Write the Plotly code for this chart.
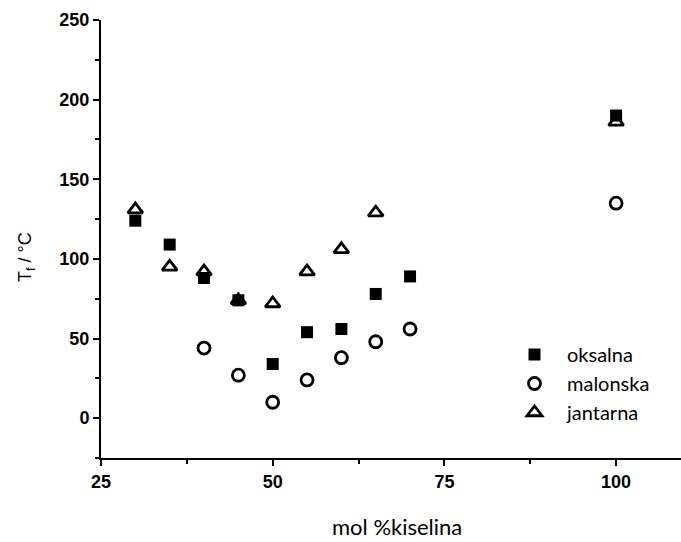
import plotly.graph_objects as go

x_oks = [30, 35, 40, 45, 50, 55, 60, 65, 70, 100]
y_oks = [124, 109, 88, 74, 34, 54, 56, 78, 89, 190]

x_mal = [40, 45, 50, 55, 60, 65, 70, 100]
y_mal = [44, 27, 10, 24, 38, 48, 56, 135]

x_jan = [30, 35, 40, 45, 50, 55, 60, 65, 100]
y_jan = [131, 95, 92, 74, 72, 92, 106, 129, 186]

names = ["oksalna", "malonska", "jantarna"]

W, H = 681, 542
L, R, T, B = 101, 0, 20, 84
pw, ph = W - L - R, H - T - B

def px(xp):
    return (xp - L) / pw

def py(yp):
    return (H - B - yp) / ph

fig = go.Figure()
fig.add_trace(go.Scatter(x=x_oks, y=y_oks, mode="markers", name=names[0],
                         marker=dict(symbol="square", size=12, color="black",
                                     line=dict(width=0))))
fig.add_trace(go.Scatter(x=x_mal, y=y_mal, mode="markers", name=names[1],
                         marker=dict(symbol="circle-open", size=12, color="black",
                                     line=dict(width=2.8))))
fig.add_trace(go.Scatter(x=x_jan, y=y_jan, mode="markers", name=names[2],
                         marker=dict(symbol="triangle-up-open", size=13, color="black",
                                     line=dict(width=2.8))))

tickfont = dict(family="Liberation Sans", size=18, color="black")
axis_common = dict(showgrid=False, zeroline=False, showline=True, linecolor="black",
                   linewidth=2, ticks="outside", ticklen=6, tickwidth=2,
                   tickcolor="black", tickfont=tickfont)

fig.update_xaxes(range=[25, 25 + pw / 6.868], tickvals=[25, 50, 75, 100],
                 ticktext=["<b>25</b>", "<b>50</b>", "<b>75</b>", "<b>100</b>"],
                 minor=dict(ticks="outside", ticklen=4, tickwidth=2, tickcolor="black",
                            tickvals=[37.5, 62.5, 87.5]),
                 **axis_common)
fig.update_yaxes(range=[-25, 250], tickvals=[0, 50, 100, 150, 200, 250],
                 ticktext=["<b>%d</b>" % v for v in [0, 50, 100, 150, 200, 250]],
                 minor=dict(ticks="outside", ticklen=4, tickwidth=2, tickcolor="black",
                            tickvals=[-25, 25, 75, 125, 175, 225]),
                 **axis_common)

fig.add_annotation(x=px(26), y=py(257), xref="paper", yref="paper",
                   xanchor="center", yanchor="middle",
                   text="T<sub>f</sub> / °C", textangle=-90, showarrow=False,
                   font=dict(family="Liberation Sans", size=18, color="black"))
fig.add_annotation(x=px(397), y=py(526), xref="paper", yref="paper",
                   xanchor="center", yanchor="middle",
                   text="mol %kiselina", showarrow=False,
                   font=dict(family="Lato", size=22, color="black"))

fig.update_layout(
    width=W, height=H,
    margin=dict(l=L, r=R, t=T, b=B, pad=0),
    paper_bgcolor="white", plot_bgcolor="white",
    showlegend=True,
    legend=dict(x=px(502), y=py(335), xanchor="left", yanchor="top",
                bgcolor="rgba(0,0,0,0)", borderwidth=0,
                font=dict(family="Lato", size=20, color="black"),
                itemsizing="trace", tracegroupgap=0, itemwidth=55),
)

fig.write_html("out.html", config={"displayModeBar": False},
               post_script="document.body.style.margin='0';document.body.style.overflow='hidden';")
